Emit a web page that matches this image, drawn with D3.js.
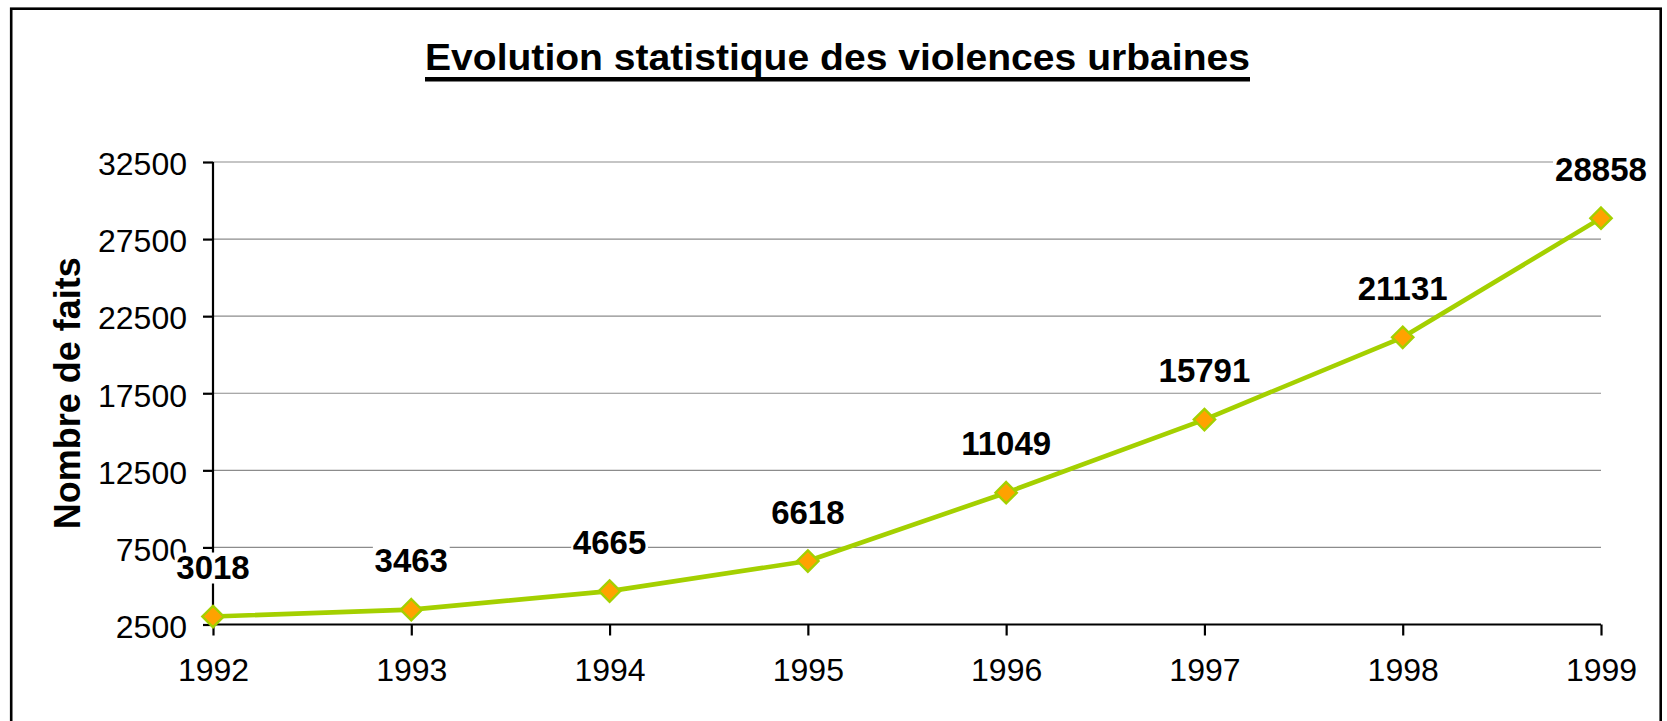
<!DOCTYPE html>
<html>
<head>
<meta charset="utf-8">
<script src="https://cdn.jsdelivr.net/npm/d3@7"></script>
<style>
  body { margin: 0; background: #fff; }
  svg { display: block; font-family: "Liberation Sans", Arial, sans-serif; }
</style>
</head>
<body>
<svg></svg>
<script>
// ---------------- data ----------------
let years = ['1992', '1993', '1994', '1995', '1996', '1997', '1998', '1999']
let faits = [3018, 3463, 4665, 6618, 11049, 15791, 21131, 28858]
let yTicks = [2500, 7500, 12500, 17500, 22500, 27500, 32500]

let title = 'Evolution statistique des violences urbaines'
let yLabel = 'Nombre de faits'

// ---------------- canvas ----------------
let width = 1667
let height = 721

let plotLeft = 213
let plotRight = 1601
let plotTop = 162
let plotBottom = 624.5

let svg = d3.select('svg')
  .attr('width', width)
  .attr('height', height)

// cadre exterieur (le bas sort de l'image)
svg.append('rect')
  .attr('x', 11.2)
  .attr('y', 8.7)
  .attr('width', 1649.5)
  .attr('height', 760)
  .attr('fill', 'none')
  .attr('stroke', '#000')
  .attr('stroke-width', 2.6)

// ---------------- scales ----------------
let xScale = d3.scalePoint()
  .domain(years)
  .range([plotLeft, plotRight])

let yScale = d3.scaleLinear()
  .domain([2500, 32500])
  .range([plotBottom, plotTop])

// ---------------- grid ----------------
svg.append('g')
  .selectAll('line')
  .data(yTicks.filter(d => d > 2500))
  .enter()
  .append('line')
  .attr('x1', plotLeft)
  .attr('x2', plotRight)
  .attr('y1', d => yScale(d))
  .attr('y2', d => yScale(d))
  .attr('stroke', '#8c8c8c')
  .attr('stroke-width', 1.2)

// fond blanc derriere les etiquettes (elles coupent la grille)
let labelG = svg.append('g')
labelG.selectAll('rect')
  .data(faits)
  .enter()
  .append('rect')
  .attr('x', (d, i) => xScale(years[i]) - String(d).length * 9.6)
  .attr('y', d => yScale(d) - 64)
  .attr('width', d => String(d).length * 19.2)
  .attr('height', 31)
  .attr('fill', '#fff')

// ---------------- axes ----------------
let xAxis = d3.axisBottom(xScale)
  .tickSize(11)
  .tickPadding(24)

let yAxis = d3.axisLeft(yScale)
  .tickValues(yTicks)
  .tickFormat(d3.format('d'))
  .tickSize(10)
  .tickPadding(16)

let gx = svg.append('g')
  .attr('transform', 'translate(0,' + plotBottom + ')')
  .call(xAxis)

let gy = svg.append('g')
  .attr('transform', 'translate(' + plotLeft + ',0)')
  .call(yAxis)

for (let g of [gx, gy]) {
  g.select('.domain').attr('stroke', '#000').attr('stroke-width', 2.2)
  g.selectAll('.tick line').attr('stroke', '#000').attr('stroke-width', 2.2)
  g.selectAll('.tick text')
    .attr('fill', '#000')
    .style('font-size', '32px')
    .style('font-family', '"Liberation Sans", Arial, sans-serif')
}
// pas de petits bouts aux extremites
gx.select('.domain').attr('d', 'M' + plotLeft + ',0H' + plotRight)
gy.select('.domain').attr('d', 'M0,' + plotBottom + 'V' + plotTop)
gy.selectAll('.tick text').attr('dy', '0.4em')
gx.selectAll('.tick text').attr('dy', '0.68em')

// ---------------- line + markers ----------------
let line = d3.line()
  .x((d, i) => xScale(years[i]))
  .y(d => yScale(d))

svg.append('path')
  .datum(faits)
  .attr('d', line)
  .attr('fill', 'none')
  .attr('stroke', '#a4d000')
  .attr('stroke-width', 4.6)
  .attr('stroke-linejoin', 'round')

svg.append('g')
  .selectAll('path')
  .data(faits)
  .enter()
  .append('path')
  .attr('d', d3.symbol(d3.symbolDiamond2, 290))
  .attr('transform', (d, i) => 'translate(' + xScale(years[i]) + ',' + yScale(d) + ')')
  .attr('fill', '#ffa200')
  .attr('stroke', '#a4d000')
  .attr('stroke-width', 2.4)

// ---------------- data labels ----------------
labelG.selectAll('text')
  .data(faits)
  .enter()
  .append('text')
  .attr('x', (d, i) => xScale(years[i]))
  .attr('y', d => yScale(d) - 37.5)
  .attr('text-anchor', 'middle')
  .style('font-size', '33px')
  .style('font-weight', 'bold')
  .text(d => d)
labelG.raise()

// ---------------- titles ----------------
svg.append('text')
  .attr('x', 837.5)
  .attr('y', 70)
  .attr('text-anchor', 'middle')
  .attr('textLength', 825)
  .attr('lengthAdjust', 'spacingAndGlyphs')
  .style('font-size', '36px')
  .style('font-weight', 'bold')
  .text(title)

svg.append('rect')
  .attr('x', 425)
  .attr('y', 77)
  .attr('width', 825)
  .attr('height', 4.5)
  .attr('fill', '#000')

svg.append('text')
  .attr('transform', 'translate(80,' + ((plotTop + plotBottom) / 2) + ') rotate(-90)')
  .attr('text-anchor', 'middle')
  .style('font-size', '36px')
  .style('font-weight', 'bold')
  .text(yLabel)
</script>
</body>
</html>
